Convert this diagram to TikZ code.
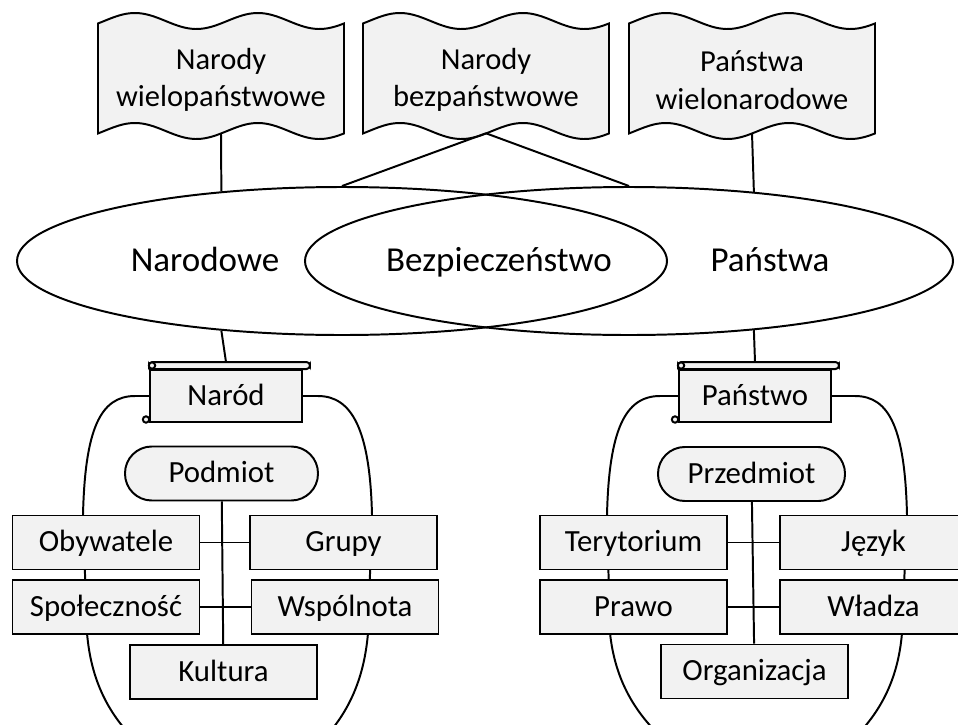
\documentclass[tikz,border=0pt]{standalone}
\usepackage{fontspec}
\setmainfont{Carlito}
\usetikzlibrary{calc,backgrounds,shapes.geometric}
\definecolor{boxfill}{RGB}{242,242,242}
\newcommand{\pxu}{0.025cm}
\tikzset{
  pen/.style={line width=1.4pt},
  box/.style={pen, draw, fill=boxfill, rectangle, inner sep=0pt,
    minimum width=187*\pxu, minimum height=54*\pxu,
    text height=18.2pt, text depth=4.8pt, font=\fontsize{21.9}{26}\selectfont},
  pill/.style={box, rounded corners=19pt},
  scroll/.style={box, minimum width=152*\pxu, minimum height=52*\pxu},
  oval/.style={pen, draw, ellipse, inner sep=0pt, minimum height=148*\pxu},
  biglabel/.style={anchor=base, font=\fontsize{24.9}{29}\selectfont},
  flagtext/.style={align=center, inner sep=0pt, minimum width=246*\pxu,
    minimum height=106*\pxu, font=\fontsize{21.7}{26.6}\selectfont}
}
% wavy flag, #1 = left edge
\newcommand{\wavyflag}[1]{%
  \filldraw[pen, fill=boxfill]
    plot[domain=0:246, samples=49, smooth] ({#1+\x}, {21-8*sin(2.927*\x-18)})
    -- plot[domain=246:0, samples=49, smooth] ({#1+\x}, {131-8*sin(2.927*\x-18)})
    -- cycle;}
% rolled edges of a scroll node
\newcommand{\scrollroll}[1]{%
  \filldraw[pen, fill=boxfill, rounded corners=2.5pt]
    ($(#1.north west)+(0,-7)$) rectangle ($(#1.north east)+(7,0)$);
  \filldraw[pen, fill=boxfill] ($(#1.north west)+(3,-3.5)$) circle[radius=3.2];
  \filldraw[pen, fill=boxfill] ($(#1.south west)+(-3,-3.5)$) circle[radius=3.2];}

\begin{document}
\begin{tikzpicture}[x=\pxu, y=-\pxu]
  \useasboundingbox (0,0) rectangle (958,724);
  \clip (0,0) rectangle (958,724);

  % flags
  \wavyflag{98}
  \wavyflag{363}
  \wavyflag{629}
  \node[flagtext] (NW) at (221,80) {Narody\\wielopaństwowe};
  \node[flagtext] (NB) at (486,80) {Narody\\bezpaństwowe};
  \node[flagtext] (PW) at (752,80) {Państwa\\wielonarodowe};

  % the two ovals
  \node[oval, minimum width=650*\pxu] (ON) at (342,261) {};
  \node[oval, minimum width=648*\pxu] (OP) at (629,261) {};
  \node[biglabel] (lN) at (205,271) {Narodowe};
  \node[biglabel] (lB) at (499,271) {Bezpieczeństwo};
  \node[biglabel] (lP) at (770,271) {Państwa};

  \draw[pen] (NW.south) -- (ON.150.4);
  \draw[pen] (PW.south) -- (OP.29.1);
  \draw[pen] (NB.south) -- (ON.north);
  \draw[pen] (NB.south) -- (OP.north);

  % scrolls
  \node[scroll] (Nar) at (226,396) {Naród};
  \node[scroll] (Pan) at (755,396) {Państwo};
  \scrollroll{Nar}
  \scrollroll{Pan}
  \coordinate (NarTop) at ($(Nar.north)+(0,-7)$);
  \coordinate (PanTop) at ($(Pan.north)+(0,-7)$);
  \draw[pen] (ON.210.8) -- (NarTop);
  \draw[pen] (OP.331.6) -- (PanTop);

  % left group
  \node[pill, minimum width=193*\pxu] (Pod) at (221.5,473.5) {Podmiot};
  \node[box] (Oby) at (106,542.5) {Obywatele};
  \node[box] (Gru) at (343.5,542.5) {Grupy};
  \node[box] (Spo) at (106,607) {Społeczność};
  \node[box] (Wsp) at (345,607) {Wspólnota};
  \node[box] (Kul) at (223.5,672) {Kultura};
  \draw[pen] (Pod) -- (Kul);
  \draw[pen] (Oby) -- (Gru);
  \draw[pen] (Spo) -- (Wsp);

  % right group
  \node[pill] (Prz) at (751.5,474) {Przedmiot};
  \node[box] (Ter) at (633.5,542.5) {Terytorium};
  \node[box] (Jez) at (873.5,542.5) {Język};
  \node[box] (Pra) at (633.5,607) {Prawo};
  \node[box] (Wla) at (873.5,607) {Władza};
  \node[box] (Org) at (754.5,671.5) {Organizacja};
  \draw[pen] (Prz) -- (Org);
  \draw[pen] (Ter) -- (Jez);
  \draw[pen] (Pra) -- (Wla);

  % outlines behind the groups
  \begin{pgfonlayer}{background}
    \draw[pen] (Nar.west) -- (135,396) .. controls (100,396) and (85,430) .. (83,515)
      -- (87,633) .. controls (91,680) and (108,715) .. (140,745);
    \draw[pen] (Nar.east) -- (318,396) .. controls (352,396) and (370,430) .. (372,515)
      -- (368,633) .. controls (364,680) and (348,715) .. (318,745);
    \draw[pen] (Pan.west) -- (660,396) .. controls (625,396) and (609,430) .. (607,515)
      -- (610,633) .. controls (615,680) and (635,715) .. (670,745);
    \draw[pen] (Pan.east) -- (855,396) .. controls (890,396) and (905,430) .. (907,515)
      -- (902,633) .. controls (898,680) and (880,715) .. (847,745);
  \end{pgfonlayer}
\end{tikzpicture}
\end{document}
